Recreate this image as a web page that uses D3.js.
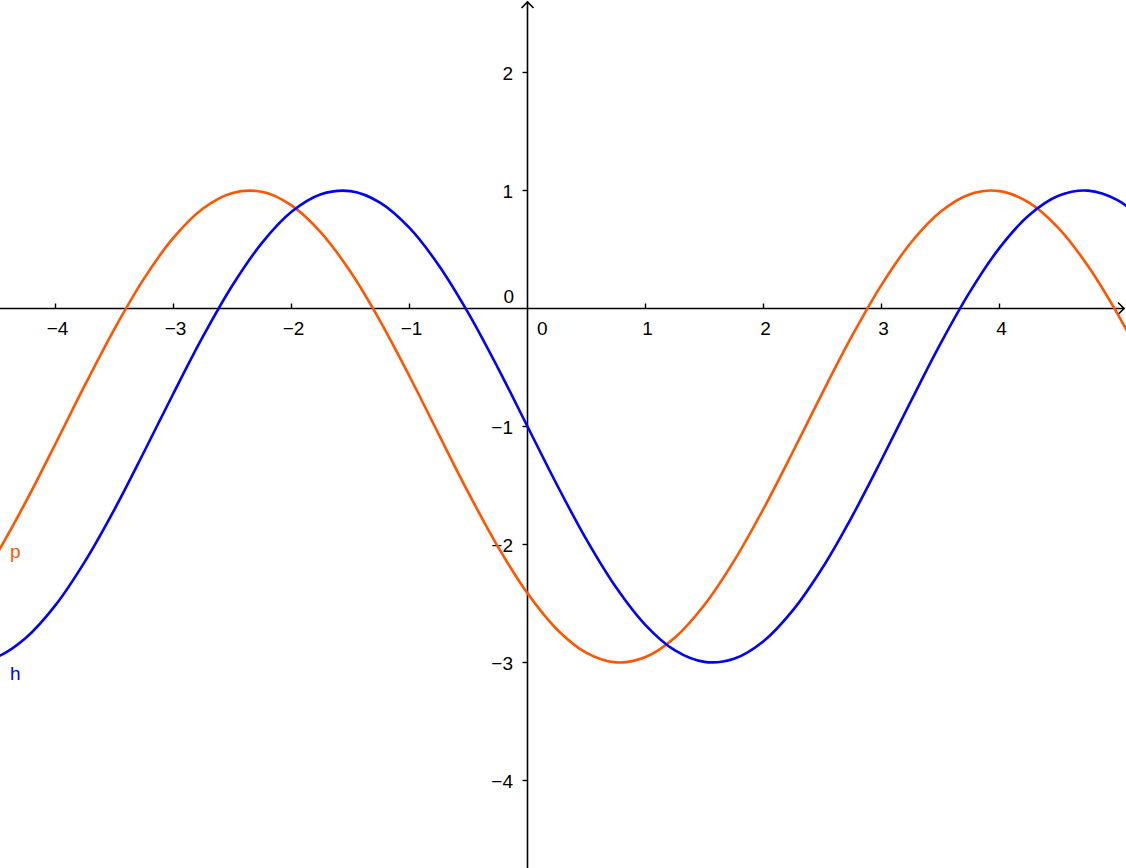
<!DOCTYPE html>
<html>
<head>
<meta charset="utf-8">
<script src="https://cdn.jsdelivr.net/npm/d3@7"></script>
<style>
html,body{margin:0;padding:0;background:#fff;overflow:hidden;}
svg{display:block;}
text{font-family:"Liberation Sans",Arial,sans-serif;font-size:19px;}
</style>
</head>
<body>
<svg id="chart" width="1126" height="868"></svg>
<script>
// sample positions along x
const xValues = [-4.75,-4.5,-4.25,-4,-3.75,-3.5,-3.25,-3,-2.75,-2.5,-2.25,-2,-1.75,-1.5,-1.25,-1,-0.75,-0.5,-0.25,0,0.25,0.5,0.75,1,1.25,1.5,1.75,2,2.25,2.5,2.75,3,3.25,3.5,3.75,4,4.25,4.5,4.75,5,5.25,5.5];
// series h (blue)
const hValues = [-2.999,-2.955,-2.790,-2.514,-2.143,-1.702,-1.216,-0.718,-0.237,0.197,0.556,0.819,0.968,0.995,0.898,0.683,0.363,-0.041,-0.505,-1,-1.495,-1.959,-2.363,-2.683,-2.898,-2.995,-2.968,-2.819,-2.556,-2.197,-1.763,-1.282,-0.784,-0.298,0.143,0.514,0.790,0.955,0.999,0.918,0.718,0.411];
// series p (orange)
const pValues = [-2.466,-2.084,-1.635,-1.146,-0.648,-0.172,0.253,0.600,0.847,0.979,0.989,0.874,0.644,0.311,-0.104,-0.574,-1.071,-1.563,-2.020,-2.414,-2.720,-2.919,-2.999,-2.954,-2.788,-2.511,-2.139,-1.697,-1.212,-0.713,-0.233,0.200,0.559,0.820,0.969,0.995,0.897,0.681,0.360,-0.045,-0.509,-1.004];
const xTicks = [-4,-3,-2,-1,1,2,3,4];
const yTicks = [2,1,-1,-2,-3,-4];
const seriesNames = ["p","h"];

const W = 1126, H = 868;
const unit = 118;
const originX = 527.5, originY = 308.5;
const x = d3.scaleLinear().domain([-originX/unit, (W-originX)/unit]).range([0, W]);
const y = d3.scaleLinear().domain([(originY-H)/unit, originY/unit]).range([H, 0]);

const svg = d3.select("#chart");
const fmt = v => (v < 0 ? "\u2212" + Math.abs(v) : String(v));
const axisColor = "#000";

// curves
const line = d3.line().x(d => x(d[0])).y(d => y(d[1])).curve(d3.curveCatmullRom.alpha(0.5));
const pData = xValues.map((v, i) => [v, pValues[i]]);
const hData = xValues.map((v, i) => [v, hValues[i]]);
const colors = {p: "#ff5500", h: "#0000ff"};

// x-axis
const gx = svg.append("g").attr("transform", `translate(0,${y(0)})`);
gx.append("line").attr("x1", 0).attr("x2", W - 1.5).attr("y1", 0).attr("y2", 0)
  .attr("stroke", axisColor).attr("stroke-width", 1.6);
gx.append("path").attr("d", `M${W-8},-6 L${W-2},0 L${W-8},6`)
  .attr("fill", "none").attr("stroke", axisColor).attr("stroke-width", 1.6);
gx.selectAll("line.tick").data(xTicks).join("line").attr("class", "tick")
  .attr("x1", d => x(d)).attr("x2", d => x(d)).attr("y1", -5).attr("y2", 0)
  .attr("stroke", axisColor).attr("stroke-width", 1.4);
gx.selectAll("text.lbl").data(xTicks).join("text").attr("class", "lbl")
  .attr("x", d => x(d) + 2).attr("y", 26.5).attr("text-anchor", "middle")
  .attr("fill", "#000").text(fmt);
gx.append("text").attr("x", x(0) + 9.5).attr("y", 26).attr("text-anchor", "start").attr("fill", "#000").text("0");

// y-axis
const gy = svg.append("g").attr("transform", `translate(${x(0)},0)`);
gy.append("line").attr("x1", 0).attr("x2", 0).attr("y1", 1.5).attr("y2", H)
  .attr("stroke", axisColor).attr("stroke-width", 1.6);
gy.append("path").attr("d", `M-6,8 L0,2 L6,8`)
  .attr("fill", "none").attr("stroke", axisColor).attr("stroke-width", 1.6);
gy.selectAll("line.tick").data(yTicks).join("line").attr("class", "tick")
  .attr("x1", -5).attr("x2", 0).attr("y1", d => y(d)).attr("y2", d => y(d))
  .attr("stroke", axisColor).attr("stroke-width", 1.4);
gy.selectAll("text.lbl").data(yTicks).join("text").attr("class", "lbl")
  .attr("x", -14.5).attr("y", d => y(d) + 7).attr("text-anchor", "end")
  .attr("fill", "#000").text(fmt);
gy.append("text").attr("x", -13.5).attr("y", y(0) - 5.5).attr("text-anchor", "end").attr("fill", "#000").text("0");

svg.append("path").datum(pData).attr("d", line).attr("fill", "none")
  .attr("stroke", colors.p).attr("stroke-width", 2.6);
svg.append("path").datum(hData).attr("d", line).attr("fill", "none")
  .attr("stroke", colors.h).attr("stroke-width", 2.6);

// curve labels
svg.append("text").attr("x", 10).attr("y", 558).attr("fill", colors.p).text(seriesNames[0]);
svg.append("text").attr("x", 10).attr("y", 680).attr("fill", colors.h).text(seriesNames[1]);
</script>
</body>
</html>
